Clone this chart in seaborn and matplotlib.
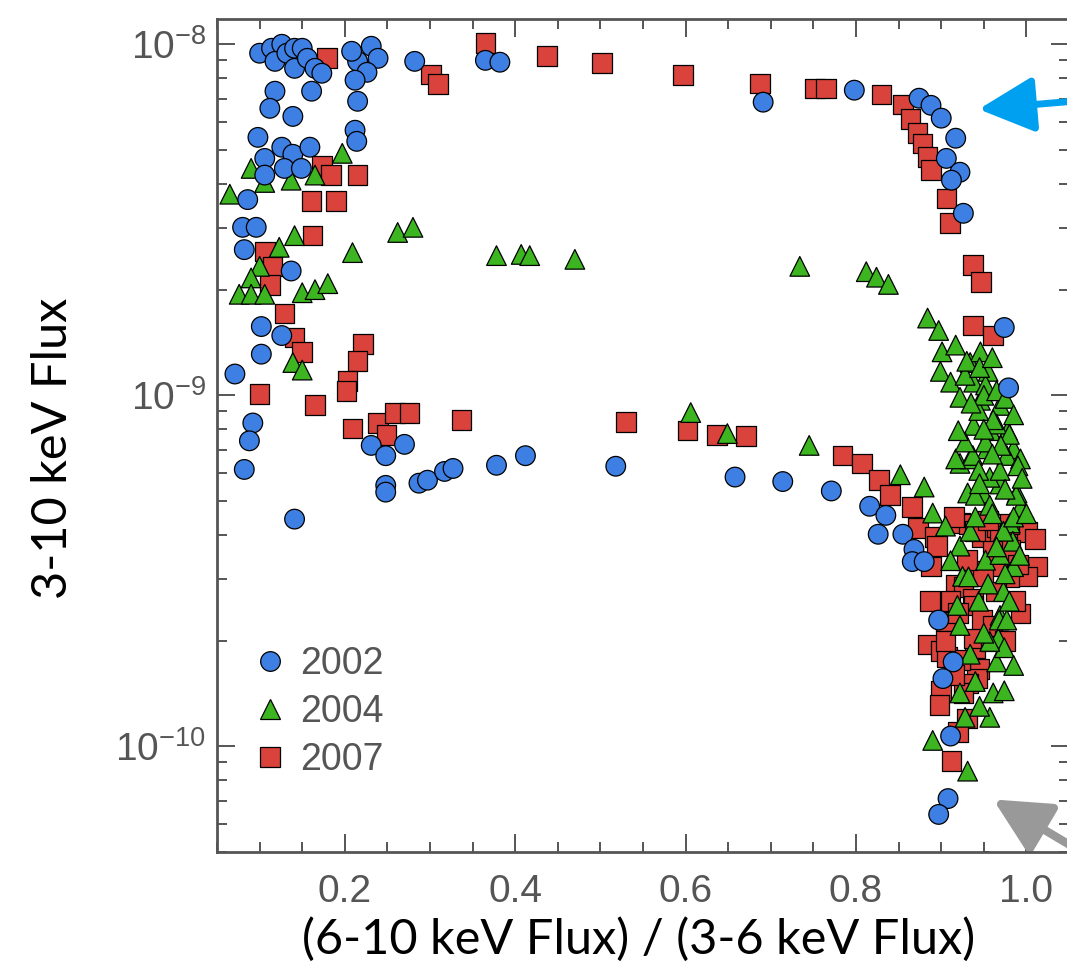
import numpy as np
import pandas as pd
import matplotlib
matplotlib.use('Agg')
import matplotlib.pyplot as plt
import seaborn as sns
from matplotlib.patches import FancyArrowPatch
from matplotlib.ticker import FixedLocator, MultipleLocator, LogLocator, NullFormatter


# hardness ratio (6-10 keV / 3-6 keV) and 3-10 keV flux (units of 1e-10)
ratio_2002 = [0.100, 0.114, 0.126, 0.118, 0.132, 0.141, 0.150, 0.141, 0.156, 0.165,
              0.173, 0.161, 0.118, 0.112, 0.139, 0.215, 0.208, 0.231, 0.239, 0.226,
              0.212, 0.215, 0.282, 0.365, 0.382, 0.691, 0.798, 0.874, 0.888, 0.900,
              0.917, 0.906, 0.922, 0.912, 0.926, 0.974, 0.979, 0.098, 0.106, 0.126,
              0.139, 0.159, 0.129, 0.149, 0.106, 0.212, 0.214, 0.086, 0.080, 0.096,
              0.082, 0.137, 0.102, 0.126, 0.102, 0.071, 0.092, 0.088, 0.082, 0.141,
              0.231, 0.248, 0.270, 0.248, 0.248, 0.287, 0.297, 0.317, 0.327, 0.378,
              0.412, 0.518, 0.658, 0.714, 0.771, 0.816, 0.835, 0.826, 0.855, 0.868,
              0.866, 0.880, 0.897, 0.914, 0.902, 0.911, 0.908, 0.897, 0.953]
flux_2002 = [94.3, 97.4, 100, 89.4, 94.3, 97.4, 97.4, 85.4, 91.2, 85.4,
             82.7, 73.5, 73.5, 65.7, 62.3, 89.4, 95.5, 98.7, 91.2, 83.2,
             79.0, 68.8, 89.4, 90.0, 88.9, 68.4, 74.0, 70.2, 67.0, 61.6,
             54.0, 47.3, 43.2, 41.0, 33.0, 15.6, 10.5, 54.3, 47.3, 50.9,
             48.6, 50.9, 44.3, 44.3, 42.4, 56.9, 52.9, 36.1, 30.1, 30.1,
             26.0, 22.6, 15.7, 14.8, 13.1, 11.5, 8.34, 7.42, 6.15, 4.44,
             7.20, 6.73, 7.25, 5.54, 5.30, 5.62, 5.73, 6.07, 6.19, 6.32,
             6.73, 6.28, 5.85, 5.68, 5.34, 4.83, 4.55, 4.02, 4.02, 3.64,
             3.36, 3.36, 2.29, 1.74, 1.56, 1.07, 0.71, 0.64, 0.47]

ratio_2004 = [0.197, 0.090, 0.106, 0.137, 0.165, 0.065, 0.141, 0.123, 0.100, 0.090,
              0.076, 0.090, 0.106, 0.150, 0.165, 0.180, 0.209, 0.262, 0.280, 0.139,
              0.150, 0.378, 0.407, 0.417, 0.470, 0.734, 0.812, 0.824, 0.838, 0.606,
              0.649, 0.745, 0.884, 0.897, 0.901, 0.899, 0.911, 0.934, 0.946, 0.955,
              0.938, 0.922, 0.946, 0.969, 0.938, 0.958, 0.978, 0.922, 0.934, 0.954,
              0.985, 0.931, 0.949, 0.969, 0.989, 0.993, 0.852, 0.880, 0.890, 0.981,
              0.984, 0.922, 0.911, 0.925, 0.985, 0.973, 0.969, 0.967, 0.919, 0.922,
              0.934, 0.922, 0.961, 0.928, 0.957, 0.890, 0.931, 0.965, 0.937, 0.940,
              0.957, 0.977, 0.917, 0.928, 0.952, 0.980, 0.968, 0.965, 0.932, 0.974,
              0.977, 0.993, 0.988, 0.917, 0.928, 0.952, 0.961, 0.944, 0.920, 0.969,
              0.944, 0.957, 0.973, 0.934, 0.952, 0.969, 0.905, 0.944, 0.957, 0.980,
              0.940, 0.974, 0.930, 0.945, 0.960, 0.950, 0.935, 0.965, 0.975, 0.985,
              0.950, 0.970, 0.990, 0.960, 0.945, 0.975, 0.995, 0.960, 0.985, 1.000,
              0.940, 0.965, 0.992, 0.955, 0.975, 0.950, 0.985, 0.945]
flux_2004 = [48.9, 44.3, 40.4, 41.0, 42.4, 37.4, 28.5, 26.4, 23.3, 21.6,
             19.4, 19.4, 19.4, 19.6, 20.0, 20.8, 25.5, 29.1, 30.1, 12.4,
             11.8, 25.0, 25.2, 25.0, 24.4, 23.3, 22.5, 21.7, 20.7, 8.93,
             7.78, 7.20, 16.6, 15.3, 13.3, 11.7, 10.9, 12.4, 13.3, 11.7,
             10.9, 9.87, 9.68, 9.36, 8.21, 7.93, 7.93, 6.40, 6.59, 7.04,
             7.04, 5.27, 5.27, 5.59, 5.27, 4.80, 5.94, 5.48, 4.62, 4.33,
             3.84, 3.72, 3.38, 3.05, 3.25, 2.76, 2.36, 2.03, 2.52, 2.21,
             1.83, 1.42, 1.42, 1.21, 1.21, 1.04, 0.85, 8.28, 6.74, 5.19,
             5.84, 6.74, 6.59, 7.36, 7.36, 7.74, 2.29, 1.74, 3.04, 1.91,
             2.29, 6.59, 5.19, 13.9, 11.4, 10.7, 8.52, 9.05, 7.93, 6.11,
             6.11, 4.86, 4.10, 4.10, 3.39, 3.52, 4.24, 2.59, 1.99, 2.59,
             1.53, 1.44, 12.5, 12.0, 12.8, 10.0, 9.50, 10.3, 9.80, 8.80,
             8.00, 7.20, 6.30, 6.80, 5.60, 5.40, 5.80, 4.60, 4.50, 4.60,
             4.50, 3.70, 3.50, 2.90, 3.10, 2.10, 1.70, 1.30]

ratio_2007 = [0.179, 0.173, 0.184, 0.215, 0.161, 0.190, 0.162, 0.106, 0.115, 0.112,
              0.129, 0.141, 0.150, 0.221, 0.215, 0.203, 0.202, 0.100, 0.165, 0.209,
              0.239, 0.259, 0.276, 0.249, 0.337, 0.301, 0.309, 0.365, 0.437, 0.502,
              0.597, 0.687, 0.752, 0.765, 0.830, 0.855, 0.864, 0.872, 0.878, 0.884,
              0.888, 0.906, 0.910, 0.937, 0.947, 0.937, 0.961, 0.530, 0.602, 0.637,
              0.671, 0.784, 0.807, 0.827, 0.840, 0.866, 0.873, 0.892, 0.888, 0.895,
              0.922, 0.932, 0.948, 0.965, 0.969, 0.996, 1.001, 1.013, 1.001, 0.980,
              0.966, 0.945, 0.949, 0.917, 0.926, 0.937, 0.938, 0.948, 0.993, 0.884,
              0.900, 0.907, 0.940, 0.938, 0.945, 0.942, 0.932, 0.926, 0.900, 0.898,
              0.912, 0.911, 0.964, 0.981, 0.958, 0.922, 0.905, 0.987, 0.887, 0.915,
              0.940, 0.955, 0.980, 1.010, 0.990, 0.930, 0.960, 0.920, 0.905, 0.915,
              0.960, 0.975, 0.930, 0.920]
flux_2007 = [91.2, 45.2, 42.4, 42.4, 35.7, 35.7, 28.5, 25.7, 23.3, 20.6,
             17.1, 14.6, 13.3, 14.0, 12.5, 11.0, 10.3, 10.1, 9.37, 8.05,
             8.34, 8.92, 8.92, 7.70, 8.52, 82.1, 76.9, 100.7, 92.4, 88.3,
             81.6, 77.4, 74.9, 74.9, 72.0, 67.4, 61.2, 55.8, 52.2, 47.7,
             43.8, 36.4, 30.9, 23.5, 21.0, 15.8, 14.8, 8.38, 7.93, 7.70,
             7.66, 6.74, 6.40, 5.73, 5.19, 4.80, 4.18, 3.95, 3.25, 3.72,
             4.33, 4.30, 3.95, 4.21, 3.99, 4.21, 4.08, 3.25, 3.05, 3.03,
             3.25, 3.16, 3.05, 2.89, 2.85, 2.64, 2.52, 2.29, 2.39, 1.95,
             1.87, 1.80, 1.91, 2.03, 1.66, 1.56, 1.51, 1.42, 1.44, 1.31,
             0.91, 2.59, 2.76, 3.63, 1.99, 1.76, 2.27, 2.59, 2.59, 4.50,
             4.10, 4.40, 4.30, 3.90, 3.30, 3.40, 3.60, 2.40, 2.00, 1.60,
             2.20, 2.00, 1.20, 1.10]

years = ['2002', '2004', '2007']
colors = ['#3d7fe3', '#3cb521', '#d9433b']
marker_shapes = ['o', '^', 's']
x_ticks = [0.2, 0.4, 0.6, 0.8, 1.0]
y_ticks = [1e-10, 1e-9, 1e-8]

# draw order: 2007 at the back, 2002 on top
frames = []
for yr, r, f in [('2007', ratio_2007, flux_2007), ('2004', ratio_2004, flux_2004),
                 ('2002', ratio_2002, flux_2002)]:
    frames.append(pd.DataFrame({'ratio': r, 'flux': np.array(f) * 1e-10, 'year': yr}))
df = pd.concat(frames, ignore_index=True)

sns.set_style('ticks')
plt.rcParams['font.family'] = ['Liberation Sans', 'DejaVu Sans']
plt.rcParams['mathtext.default'] = 'regular'

fig = plt.figure(figsize=(10.67, 9.76), dpi=100)
ax = fig.add_axes([0.2034, 0.127, 0.7985, 0.8535])

sns.scatterplot(data=df, x='ratio', y='flux', hue='year', style='year',
                hue_order=years, style_order=years,
                palette=dict(zip(years, colors)), markers=dict(zip(years, marker_shapes)),
                s=200, edgecolor='black', linewidth=0.9, alpha=1, ax=ax)

ax.set_yscale('log')
ax.set_xlim(0.05, 1.05)
ax.set_ylim(5e-11, 1.18e-8)

ax.xaxis.set_major_locator(FixedLocator(x_ticks))
ax.xaxis.set_minor_locator(MultipleLocator(0.05))
ax.yaxis.set_major_locator(FixedLocator(y_ticks))
ax.yaxis.set_minor_locator(LogLocator(base=10, subs=np.arange(2, 10)))
ax.yaxis.set_minor_formatter(NullFormatter())

gray = '#555555'
ax.tick_params(which='both', direction='in', top=True, right=True,
               color=gray, labelcolor=gray, width=1.4)
ax.tick_params(which='major', length=13, labelsize=28)
ax.tick_params(which='minor', length=7)
ax.tick_params(axis='x', which='major', pad=16)
ax.tick_params(axis='y', which='major', pad=8)
for sp in ax.spines.values():
    sp.set_color(gray)
    sp.set_linewidth(2.0)

label_font = dict(family=['Lato', 'DejaVu Sans'], size=35, color='black')
ax.set_xlabel('(6-10 keV Flux) / (3-6 keV Flux)', **label_font)
ax.set_ylabel('3-10 keV Flux', **label_font)
ax.xaxis.set_label_coords(0.495, -0.078)
ax.yaxis.set_label_coords(-0.167, 0.485)

handles, labels = ax.get_legend_handles_labels()
ax.legend(handles, labels, loc='upper left', bbox_to_anchor=(0.04, 0.247),
          frameon=False, fontsize=27, labelcolor=gray, handlelength=1.0,
          handletextpad=0.3, labelspacing=0.32, borderpad=0, borderaxespad=0)

# pointer arrows at the edge of the panel
blue_arrow = FancyArrowPatch((1.075, 6.95e-9), (0.944, 6.53e-9), transform=ax.transData,
                             arrowstyle='-|>', color='#00a0f0', lw=5,
                             mutation_scale=85, shrinkA=0, shrinkB=0, clip_on=False)
gray_arrow = FancyArrowPatch((1.09, 4.6e-11), (0.961, 7.06e-11), transform=ax.transData,
                             arrowstyle='-|>', color='#999999', lw=6,
                             mutation_scale=85, shrinkA=0, shrinkB=0, clip_on=False)
ax.add_patch(blue_arrow)
ax.add_patch(gray_arrow)

fig.savefig('out.png', dpi=100)
